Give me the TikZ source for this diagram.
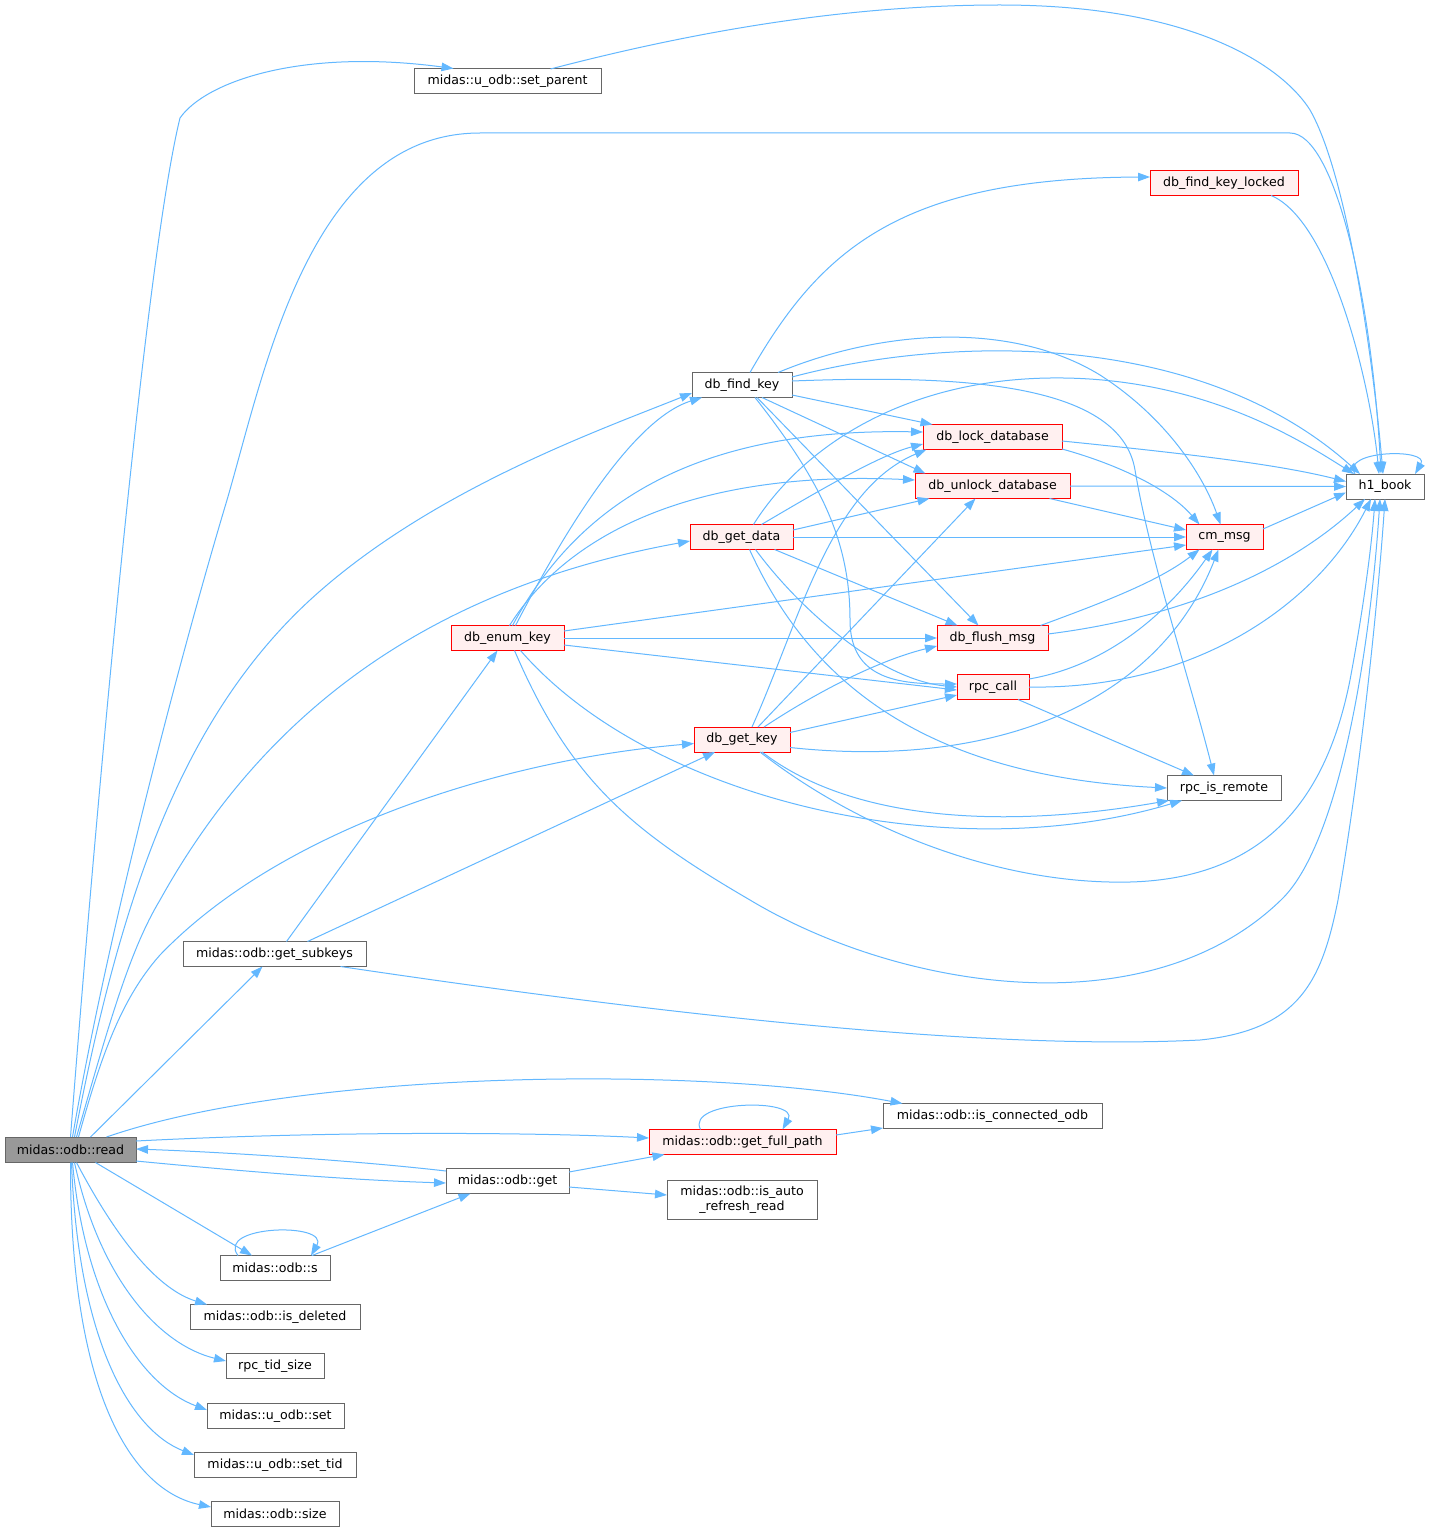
\documentclass[tikz,border=0pt]{standalone}
\usepackage{fontspec}
\setmainfont{DejaVu Sans}
\usetikzlibrary{arrows.meta}
\definecolor{edgeblue}{HTML}{63B8FF}
\definecolor{nodegray}{HTML}{666666}
\definecolor{rootfill}{HTML}{999999}
\definecolor{redfill}{HTML}{FFF0F0}
\begin{document}
\begin{tikzpicture}[x=1pt,y=-1pt,
  fn/.style={draw=nodegray,fill=white,line width=1pt,minimum height=25pt,inner sep=0pt,font=\fontsize{12.6}{15}\selectfont,text=black},
  fnred/.style={fn,draw=red,fill=redfill},
  fnroot/.style={fn,fill=rootfill},
  call/.style={draw=edgeblue,line width=1pt,-{Triangle[length=12pt,width=8.5pt]}}
]
\path[use as bounding box,fill=white] (0,0) rectangle (1429,1533);

% nodes
\node[fnroot,minimum width=131pt] (read) at (70.5,1150) {midas::odb::read};
\node[fn,minimum width=187pt] (setparent) at (507.5,81.5) {midas::u\_odb::set\_parent};
\node[fn,minimum width=78pt] (h1) at (1385,486.5) {h1\_book};
\node[fnred,minimum width=148pt] (fkl) at (1224,183) {db\_find\_key\_locked};
\node[fn,minimum width=100pt] (fk) at (742,385) {db\_find\_key};
\node[fnred,minimum width=139pt] (lock) at (992.5,437) {db\_lock\_database};
\node[fnred,minimum width=155pt] (unlock) at (992.5,486) {db\_unlock\_database};
\node[fnred,minimum width=103pt] (gdata) at (741.5,537) {db\_get\_data};
\node[fnred,minimum width=77pt] (cm) at (1224.5,537) {cm\_msg};
\node[fnred,minimum width=113pt] (enum) at (507.5,638) {db\_enum\_key};
\node[fnred,minimum width=111pt] (flush) at (992.5,638) {db\_flush\_msg};
\node[fnred,minimum width=72pt] (rpc) at (993,687) {rpc\_call};
\node[fnred,minimum width=96pt] (gkey) at (742,739.5) {db\_get\_key};
\node[fn,minimum width=114pt] (remote) at (1224,788) {rpc\_is\_remote};
\node[fn,minimum width=183pt] (subkeys) at (274.5,954) {midas::odb::get\_subkeys};
\node[fn,minimum width=219pt] (conn) at (992.5,1116) {midas::odb::is\_connected\_odb};
\node[fnred,minimum width=187pt] (fullpath) at (742.5,1142) {midas::odb::get\_full\_path};
\node[fn,minimum width=123pt] (get) at (507.5,1181) {midas::odb::get};
\node[fn,minimum width=150pt,minimum height=39pt,align=center] (auto) at (742,1200) {midas::odb::is\_auto\\\_refresh\_read};
\node[fn,minimum width=110pt] (s) at (275,1268) {midas::odb::s};
\node[fn,minimum width=170pt] (deleted) at (275,1317) {midas::odb::is\_deleted};
\node[fn,minimum width=98pt] (tid) at (275,1366) {rpc\_tid\_size};
\node[fn,minimum width=137pt] (uset) at (275.5,1416) {midas::u\_odb::set};
\node[fn,minimum width=162pt] (settid) at (275,1465) {midas::u\_odb::set\_tid};
\node[fn,minimum width=128pt] (size) at (275,1514) {midas::odb::size};

% edges from read
\draw[call] (read.north) .. controls (95,820) and (145,260) .. (180,118) .. controls (205,82) and (300,48) .. ([shift={(-54,0)}]setparent.north);
\draw[call] ([shift={(2,0)}]read.north) .. controls (110,920) and (185,640) .. (227,500) .. controls (265,370) and (310,133) .. (480,133) -- (1290,133) .. controls (1335,133) and (1372,300) .. ([shift={(-4,0)}]h1.north);
\draw[call] ([shift={(4,0)}]read.north) .. controls (120,900) and (180,720) .. (310,600) .. controls (430,490) and (600,430) .. ([shift={(-50,8)}]fk.center);
\draw[call] ([shift={(6,0)}]read.north) .. controls (110,1020) and (130,950) .. (160,900) .. controls (260,720) and (420,590) .. ([shift={(-51.5,4)}]gdata.center);
\draw[call] ([shift={(8,0)}]read.north) .. controls (100,1060) and (120,1000) .. (160,955) .. controls (280,830) and (500,760) .. ([shift={(-48,4)}]gkey.center);
\draw[call] ([shift={(20,0)}]read.north) -- ([shift={(-12,12.5)}]subkeys.center);
\draw[call] ([shift={(36,0)}]read.north) .. controls (300,1070) and (700,1065) .. ([shift={(-90,-12.5)}]conn.center);
\draw[call] ([shift={(65.5,-9)}]read.center) .. controls (350,1130) and (550,1133) .. ([shift={(-93.5,-4)}]fullpath.center);
\draw[call] ([shift={(-61.5,-10)}]get.center) .. controls (350,1160) and (220,1152) .. ([shift={(65.5,-1)}]read.center);
\draw[call] ([shift={(65.5,11)}]read.center) .. controls (250,1172) and (350,1180) .. ([shift={(-61.5,2)}]get.center);
\draw[call] ([shift={(25,12.5)}]read.center) -- ([shift={(-23,-12.5)}]s.center);
\draw[call] ([shift={(6,12.5)}]read.center) .. controls (120,1245) and (160,1290) .. ([shift={(-68,-12.5)}]deleted.center);
\draw[call] ([shift={(4,12.5)}]read.center) .. controls (100,1280) and (160,1345) .. ([shift={(-49,-5)}]tid.center);
\draw[call] ([shift={(2,12.5)}]read.center) .. controls (85,1300) and (140,1385) .. ([shift={(-68.5,-6)}]uset.center);
\draw[call] ([shift={(1,12.5)}]read.center) .. controls (78,1340) and (130,1430) .. ([shift={(-81,-10)}]settid.center);
\draw[call] ([shift={(0,12.5)}]read.center) .. controls (70,1390) and (130,1490) .. ([shift={(-64,-7)}]size.center);

% s, get, full path
\draw[call] ([shift={(-37,-12.5)}]s.center) .. controls (215,1225) and (330,1222) .. ([shift={(36,-12.5)}]s.center);
\draw[call] ([shift={(37,-12.5)}]s.center) -- ([shift={(-37,12.5)}]get.center);
\draw[call] ([shift={(61.5,-9)}]get.center) -- ([shift={(-78,12.5)}]fullpath.center);
\draw[call] ([shift={(61.5,6)}]get.center) -- ([shift={(-75,-5)}]auto.center);
\draw[call] ([shift={(-42,-12.5)}]fullpath.center) .. controls (685,1100) and (800,1098) .. ([shift={(40,-12.5)}]fullpath.center);
\draw[call] ([shift={(93.5,-7)}]fullpath.center) -- ([shift={(-109.5,12)}]conn.center);

% subkeys
\draw[call] ([shift={(12,-12.5)}]subkeys.center) -- ([shift={(-10,12.5)}]enum.center);
\draw[call] ([shift={(33,-12.5)}]subkeys.center) -- ([shift={(-27,12.5)}]gkey.center);
\draw[call] ([shift={(66,12.5)}]subkeys.center) .. controls (700,1020) and (1000,1050) .. (1200,1040) .. controls (1300,1030) and (1322,980) .. (1338,900) .. controls (1362,760) and (1378,600) .. ([shift={(0,12.5)}]h1.center);

% set_parent
\draw[call] ([shift={(43,-12.5)}]setparent.center) .. controls (700,30) and (850,5) .. (1000,5) .. controls (1200,5) and (1285,70) .. (1310,110) .. controls (1350,180) and (1375,380) .. ([shift={(-2,-12.5)}]h1.center);

% db_find_key
\draw[call] ([shift={(8,-12.5)}]fk.center) .. controls (820,250) and (900,178) .. ([shift={(-74,-6)}]fkl.center);
\draw[call] ([shift={(47,12.5)}]fkl.center) .. controls (1330,220) and (1370,380) .. ([shift={(-6,-12.5)}]h1.center);
\draw[call] ([shift={(36,-12.5)}]fk.center) .. controls (880,330) and (1010,320) .. (1100,375) .. controls (1170,420) and (1205,480) .. ([shift={(-4,-12.5)}]cm.center);
\draw[call] ([shift={(50,-8)}]fk.center) .. controls (950,335) and (1200,330) .. ([shift={(-25,-12.5)}]h1.center);
\draw[call] ([shift={(50,-4)}]fk.center) .. controls (950,375) and (1120,380) .. (1135,470) .. controls (1150,560) and (1190,680) .. ([shift={(-10,-12.5)}]remote.center);
\draw[call] ([shift={(50,10)}]fk.center) -- ([shift={(-60,-12.5)}]lock.center);
\draw[call] ([shift={(20,12.5)}]fk.center) -- ([shift={(-67,-12.5)}]unlock.center);
\draw[call] ([shift={(15,12.5)}]fk.center) -- ([shift={(-14,-12.5)}]flush.center);
\draw[call] ([shift={(13,12.5)}]fk.center) .. controls (820,480) and (850,540) .. (850,620) .. controls (850,680) and (900,684) .. ([shift={(-36,-3)}]rpc.center);

% db_get_data
\draw[call] ([shift={(20,-12.5)}]gdata.center) .. controls (820,490) and (880,455) .. ([shift={(-69.5,7)}]lock.center);
\draw[call] ([shift={(12,-12.5)}]gdata.center) .. controls (800,450) and (900,380) .. (1050,378) .. controls (1200,376) and (1300,440) .. ([shift={(-31,-12.5)}]h1.center);
\draw[call] ([shift={(51.5,-7)}]gdata.center) -- ([shift={(-63,12.5)}]unlock.center);
\draw[call] ([shift={(51.5,0)}]gdata.center) -- ([shift={(-38.5,0)}]cm.center);
\draw[call] ([shift={(33,12.5)}]gdata.center) -- ([shift={(-35,-12.5)}]flush.center);
\draw[call] ([shift={(14,12.5)}]gdata.center) .. controls (800,610) and (880,680) .. ([shift={(-36,0)}]rpc.center);
\draw[call] ([shift={(8,12.5)}]gdata.center) .. controls (800,660) and (900,775) .. ([shift={(-57,0)}]remote.center);

% db_enum_key
\draw[call] ([shift={(8,-12.5)}]enum.center) .. controls (560,540) and (630,420) .. ([shift={(-40,12.5)}]fk.center);
\draw[call] ([shift={(5,-12.5)}]enum.center) .. controls (580,500) and (700,428) .. ([shift={(-69.5,-5)}]lock.center);
\draw[call] ([shift={(2,-12.5)}]enum.center) .. controls (570,530) and (700,470) .. ([shift={(-77.5,-6)}]unlock.center);
\draw[call] ([shift={(56.5,-7)}]enum.center) -- ([shift={(-38.5,8)}]cm.center);
\draw[call] ([shift={(56.5,0)}]enum.center) -- ([shift={(-55.5,0)}]flush.center);
\draw[call] ([shift={(56.5,7)}]enum.center) -- ([shift={(-36,3)}]rpc.center);
\draw[call] ([shift={(13,12.5)}]enum.center) .. controls (650,800) and (950,870) .. ([shift={(-42,12.5)}]remote.center);
\draw[call] ([shift={(7,12.5)}]enum.center) .. controls (570,780) and (630,830) .. (750,900) .. controls (900,990) and (1150,1030) .. (1283,898) .. controls (1340,840) and (1370,650) .. ([shift={(-5,12.5)}]h1.center);

% db_get_key
\draw[call] ([shift={(10,-12.5)}]gkey.center) .. controls (800,620) and (830,490) .. ([shift={(-66,12.5)}]lock.center);
\draw[call] ([shift={(16,-12.5)}]gkey.center) -- ([shift={(-17,12.5)}]unlock.center);
\draw[call] ([shift={(22,-12.5)}]gkey.center) .. controls (820,690) and (880,660) .. ([shift={(-55.5,8)}]flush.center);
\draw[call] ([shift={(48,-7)}]gkey.center) -- ([shift={(-36,8)}]rpc.center);
\draw[call] ([shift={(48,8)}]gkey.center) .. controls (1000,770) and (1160,700) .. ([shift={(-6,12.5)}]cm.center);
\draw[call] ([shift={(20,12.5)}]gkey.center) .. controls (850,820) and (1000,830) .. ([shift={(-55,12.5)}]remote.center);
\draw[call] ([shift={(18,12.5)}]gkey.center) .. controls (860,830) and (1000,885) .. (1130,882) .. controls (1280,878) and (1330,780) .. (1350,680) .. controls (1365,600) and (1372,540) .. ([shift={(-10,12.5)}]h1.center);

% right-hand group
\draw[call] ([shift={(69.5,4)}]lock.center) .. controls (1200,455) and (1280,465) .. ([shift={(-39,-5)}]h1.center);
\draw[call] ([shift={(69.5,12)}]lock.center) .. controls (1120,465) and (1170,490) .. ([shift={(-25,-12.5)}]cm.center);
\draw[call] ([shift={(77.5,0)}]unlock.center) -- ([shift={(-39,0)}]h1.center);
\draw[call] ([shift={(57,12.5)}]unlock.center) -- ([shift={(-38.5,-7)}]cm.center);
\draw[call] ([shift={(48,-12.5)}]flush.center) .. controls (1110,600) and (1160,580) .. ([shift={(-25,12.5)}]cm.center);
\draw[call] ([shift={(55.5,-4)}]flush.center) .. controls (1200,615) and (1300,560) .. ([shift={(-20,12.5)}]h1.center);
\draw[call] ([shift={(36,-8)}]rpc.center) .. controls (1110,665) and (1170,610) .. ([shift={(-12,12.5)}]cm.center);
\draw[call] ([shift={(36,0)}]rpc.center) .. controls (1200,690) and (1320,600) .. ([shift={(-14,12.5)}]h1.center);
\draw[call] ([shift={(25,12.5)}]rpc.center) -- ([shift={(-30,-12.5)}]remote.center);
\draw[call] ([shift={(38.5,-8)}]cm.center) -- ([shift={(-39,6)}]h1.center);
\draw[call] ([shift={(-30,-12.5)}]h1.center) .. controls (1340,450) and (1430,448) .. ([shift={(30,-12.5)}]h1.center);
\end{tikzpicture}
\end{document}
